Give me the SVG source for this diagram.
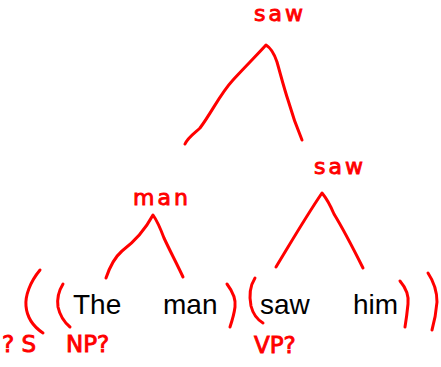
<svg xmlns="http://www.w3.org/2000/svg" width="441" height="367" viewBox="0 0 441 367">
  <style>
    .ink { fill: none; stroke: #ff0000; stroke-width: 3; stroke-linecap: round; stroke-linejoin: round; }
    .word { font-family: "Liberation Sans", Arial, sans-serif; font-size: 28px; fill: #000000; }
    .head { font-family: "DejaVu Sans", "Liberation Sans", sans-serif; font-size: 22px; fill: #ff0000; stroke: #ff0000; stroke-width: 0.9; letter-spacing: 3px; text-anchor: middle; }
    .cat { font-family: "DejaVu Sans", "Liberation Sans", sans-serif; font-size: 23px; fill: #ff0000; stroke: #ff0000; stroke-width: 0.9; }
  </style>
  <rect width="441" height="367" fill="#ffffff"/>

  <!-- tree branches -->
  <g id="connectors">
    <path class="ink" d="M185,144 C188,137 196,132 200,128 C212,112 220,94 233,80 C244,68 256,56 266,45 C271,48 275,56 277,62 C281,76 284,88 288,100 C292,114 297,128 302,140"/>
    <path class="ink" d="M106,278 C110,266 114,258 122,251 C134,242 146,228 153,215 C158,222 161,230 164,238 C170,251 177,264 183,277"/>
    <path class="ink" d="M276,267 C290,244 305,218 322,193 C328,200 331,207 334,214 C345,232 354,250 363,268"/>
  </g>

  <!-- hand-drawn brackets -->
  <g id="brackets">
    <path class="ink" d="M40,270 C30,282 25,296 26,306 C27,318 34,327 43,333"/>
    <path class="ink" d="M63,284 C58,292 57,300 58,307 C60,316 64,322 70,327"/>
    <path class="ink" d="M227,284 C233,292 236,300 235,307 C234,315 232,321 230,327"/>
    <path class="ink" d="M255,278 C250,286 249,296 251,306 C253,314 258,320 263,323"/>
    <path class="ink" d="M400,281 C406,288 409,296 408,304 C407,314 406,321 405,327"/>
    <path class="ink" d="M428,273 C434,282 437,292 437,302 C436,314 434,323 432,330"/>
  </g>

  <!-- head labels -->
  <g id="node-root">
    <text class="head" x="280" y="21">saw</text>
  </g>
  <g id="node-np">
    <text class="head" x="162" y="205">man</text>
  </g>
  <g id="node-vp">
    <text class="head" x="340" y="174">saw</text>
  </g>

  <!-- words -->
  <g id="word-the"><text class="word" x="73" y="314">The</text></g>
  <g id="word-man"><text class="word" x="163" y="314">man</text></g>
  <g id="word-saw"><text class="word" x="260" y="314">saw</text></g>
  <g id="word-him"><text class="word" x="353" y="314">him</text></g>

  <!-- category guesses -->
  <g id="cat-s"><text class="cat" x="2" y="352">? S</text></g>
  <g id="cat-np"><text class="cat" x="66" y="352">NP?</text></g>
  <g id="cat-vp"><text class="cat" x="254" y="353">VP?</text></g>
</svg>
